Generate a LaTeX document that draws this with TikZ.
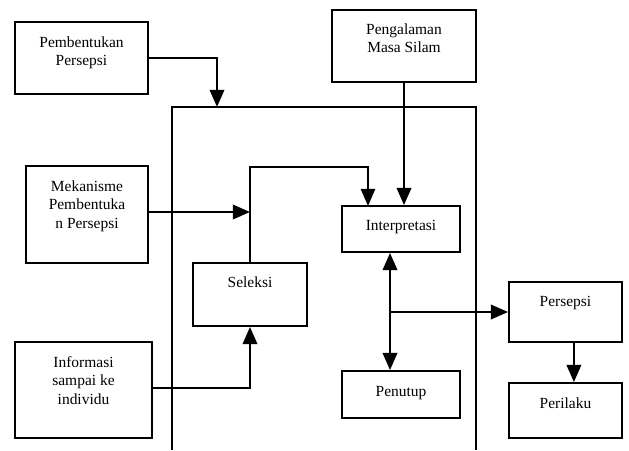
\documentclass[tikz,border=0pt]{standalone}
\usepackage{fontspec}
\setmainfont{Liberation Serif}
\usetikzlibrary{arrows.meta,positioning}
\tikzset{
  box/.style 2 args={draw, line width=1.3pt, minimum width=#1*0.025cm, minimum height=#2*0.025cm},
  txt/.style={align=center, inner sep=0pt, font=\fontsize{11}{13}\selectfont},
  tip/.style={-{Triangle[length=0.43cm,width=0.36cm]}},
  arr/.style={line width=1.7pt, tip}
}
\begin{document}
\begin{tikzpicture}[x=0.025cm, y=-0.025cm]
\useasboundingbox (0,0) rectangle (629,450);

% boxes
\node[box={133}{72}] (pemb) at (81.5,58) {};
\node[box={144}{72}] (peng) at (404,46) {};
\node[box={122}{97}] (mek) at (87,214.5) {};
\node[box={137}{96}] (info) at (83.5,390) {};
\node[box={118}{46}] (interp) at (401,229) {};
\node[box={114}{63}] (sel) at (250,294.5) {};
\node[box={118}{47}] (penu) at (401,394.5) {};
\node[box={113}{60}] (pers) at (565.5,312) {};
\node[box={113}{55}] (peri) at (565.5,410.5) {};

% texts
\node[txt, below=0.38cm of pemb.north, anchor=north] (pembtxt) {Pembentukan\\Persepsi};
\node[txt, below=0.36cm of peng.north, anchor=north] (pengtxt) {Pengalaman\\Masa Silam};
\node[txt, below=0.39cm of mek.north, anchor=north] (mektxt) {Mekanisme\\Pembentuka\\n Persepsi};
\node[txt, below=0.38cm of info.north, anchor=north] (infotxt) {Informasi\\sampai ke\\individu};
\node[txt, below=0.37cm of interp.north, anchor=north] (interptxt) {Interpretasi};
\node[txt, below=0.36cm of sel.north, anchor=north] (seltxt) {Seleksi};
\node[txt, below=0.39cm of penu.north, anchor=north] (penutxt) {Penutup};
\node[txt, below=0.36cm of pers.north, anchor=north] (perstxt) {Persepsi};
\node[txt, below=0.38cm of peri.north, anchor=north] (peritxt) {Perilaku};

% frame
\draw[line width=1.3pt] (172,450) |- (476,107) -- (476,450);

\coordinate (ftop) at (217,107);
\coordinate (bend) at (250,167);
\coordinate (intin) at (368,206);
\coordinate (jn) at (390,312);

% connectors
\draw[arr] (pemb.east) -| (ftop);
\draw[arr] (peng.south) -- (peng.south |- interp.north);
\draw[arr] (mek.east |- 0,212) -- (bend |- 0,212);
\draw[line width=1.1pt, tip] (sel.north) -- (bend) -| (intin);
\draw[arr] (info.east |- 0,388) -| (sel.south);
\draw[line width=1.7pt, {Triangle[length=0.43cm,width=0.36cm]}-{Triangle[length=0.43cm,width=0.36cm]}] (jn |- interp.south) -- (jn |- penu.north);
\draw[arr] (jn) -- (pers.west);
\draw[arr] ([xshift=0.21cm]pers.south) -- ([xshift=0.21cm]peri.north);
\end{tikzpicture}
\end{document}
